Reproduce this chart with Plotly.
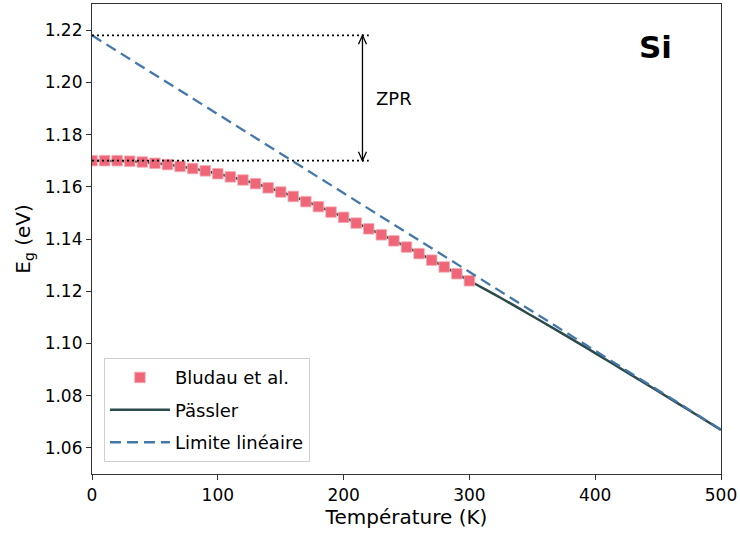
import plotly.graph_objects as go

# --- data ---
T_bludau = [0, 10, 20, 30, 40, 50, 60, 70, 80, 90, 100, 110, 120, 130, 140, 150,
            160, 170, 180, 190, 200, 210, 220, 230, 240, 250, 260, 270, 280, 290, 300]
E_bludau = [1.1700, 1.1700, 1.1700, 1.1698, 1.1695, 1.1690, 1.1685, 1.1678, 1.1670, 1.1661,
            1.1650, 1.1638, 1.1626, 1.1612, 1.1596, 1.1580, 1.1563, 1.1543, 1.1524, 1.1503,
            1.1483, 1.1461, 1.1439, 1.1416, 1.1393, 1.1369, 1.1344, 1.1319, 1.1293, 1.1267, 1.1240]

T_passler = [0, 20, 40, 60, 80, 100, 120, 140, 160, 180, 200, 220, 240, 260, 280, 300,
             325, 350, 375, 400, 425, 450, 475, 500]
E_passler = [1.1700, 1.1699, 1.1695, 1.1685, 1.1670, 1.1650, 1.1626, 1.1597, 1.1563, 1.1525,
             1.1484, 1.1440, 1.1394, 1.1345, 1.1294, 1.1240, 1.1174, 1.1105, 1.1035, 1.0963,
             1.0890, 1.0817, 1.0743, 1.0669]

T_lin = [0, 500]
E_lin = [1.218, 1.067]

E0 = 1.170          # gap at T = 0
E_lin0 = 1.218      # linear extrapolation at T = 0
T_zpr_end = 220     # end of dotted guides
T_arrow = 215       # position of ZPR arrow

x_ticks = [0, 100, 200, 300, 400, 500]
y_ticks = [1.06, 1.08, 1.10, 1.12, 1.14, 1.16, 1.18, 1.20, 1.22]

RED = "#EE6677"
BLUE = "#4477AA"
DARK = "#2B4A4A"
FONT = "DejaVu Sans"

fig = go.Figure()

fig.add_trace(go.Scatter(
    x=T_passler, y=E_passler, mode="lines", name="Pässler", legendgroup="b",
    line=dict(color=DARK, width=2.5, shape="spline"), legendrank=2))
fig.add_trace(go.Scatter(
    x=T_bludau, y=E_bludau, mode="markers", name="Bludau et al.", legendgroup="a",
    marker=dict(symbol="square", size=10.5, color=RED, line=dict(width=0.8, color="#F7A8B0")),
    legendrank=1))
fig.add_trace(go.Scatter(
    x=T_lin, y=E_lin, mode="lines", name="Limite linéaire", legendgroup="c",
    line=dict(color=BLUE, width=2.3, dash="11px,6px"), legendrank=3))

# dotted guides
for yv in (E_lin0, E0):
    fig.add_shape(type="line", xref="x", yref="y", x0=0, x1=T_zpr_end, y0=yv, y1=yv,
                  line=dict(color="black", width=1.6, dash="2px,3px"), layer="above")

# arrow shaft
fig.add_shape(type="line", xref="x", yref="y", x0=T_arrow, x1=T_arrow, y0=E0, y1=E_lin0,
              line=dict(color="black", width=1.3))
# arrow heads (pixel paths anchored at ends)
for yv, sgn in ((E_lin0, -1), (E0, 1)):
    fig.add_shape(type="path", xref="x", yref="y", xsizemode="pixel", ysizemode="pixel",
                  xanchor=T_arrow, yanchor=yv,
                  path=f"M -4,{sgn*9} L 0,0 L 4,{sgn*9}",
                  line=dict(color="black", width=1.3))

fig.add_annotation(x=224, y=1.1938, xref="x", yref="y", text="ZPR", showarrow=False,
                   xanchor="left", yanchor="middle", font=dict(family=FONT, size=18, color="black"))
fig.add_annotation(x=448, y=1.2136, xref="x", yref="y", text="<b>Si</b>", showarrow=False,
                   xanchor="center", yanchor="middle", font=dict(family=FONT, size=31, color="black"))

axis_common = dict(showgrid=False, zeroline=False, showline=True, linecolor="#333", linewidth=1.2,
                   mirror=True, ticks="outside", ticklen=5, tickwidth=1.1, tickcolor="#333",
                   ticklabeloverflow="allow",
                   tickfont=dict(family=FONT, size=17, color="black"))

fig.update_xaxes(range=[0, 500], tickvals=x_ticks, ticktext=[str(v) for v in x_ticks],
                 title=dict(text="Température (K)", font=dict(family=FONT, size=20, color="black"),
                            standoff=6),
                 **axis_common)
fig.update_yaxes(range=[1.05, 1.23], tickvals=y_ticks, ticktext=[f"{v:.2f}" for v in y_ticks],
                 title=dict(text="E<sub>g</sub> (eV)", font=dict(family=FONT, size=20, color="black"),
                            standoff=8),
                 **axis_common)

fig.update_layout(
    width=740, height=537,
    margin=dict(l=92, r=16, t=3, b=63),
    plot_bgcolor="white", paper_bgcolor="white",
    font=dict(family=FONT, size=17, color="black"),
    legend=dict(x=0.019, y=0.025, xanchor="left", yanchor="bottom",
                bgcolor="rgba(255,255,255,0.85)", bordercolor="#D0D0D0", borderwidth=1,
                font=dict(family=FONT, size=18, color="black"), itemwidth=60,
                tracegroupgap=6),
    showlegend=True,
)

fig.write_html("out.html")
